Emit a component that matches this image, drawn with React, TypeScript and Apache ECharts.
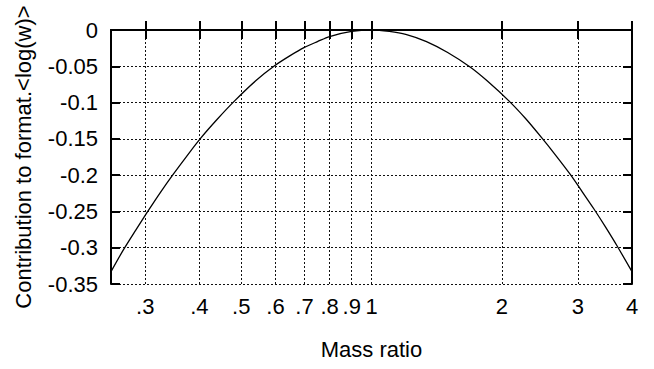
import React, { useEffect, useRef } from "react";
import * as echarts from "echarts";

// Mass ratio values along the curve (log-scaled x axis)
const massRatio = [
  0.25, 0.267, 0.285, 0.304, 0.325, 0.348, 0.375, 0.403, 0.44, 0.482, 0.54,
  0.598, 0.65, 0.7, 0.75, 0.8, 0.9, 1.0, 1.1, 1.2, 1.34, 1.5, 1.69, 1.85, 2.08,
  2.27, 2.47, 2.66, 2.88, 3.07, 3.27, 3.47, 3.69, 4.0,
];

// Contribution to format.<log(w)> at each mass ratio
const contribution = [
  -0.333, -0.303, -0.276, -0.25, -0.224, -0.199, -0.173, -0.149, -0.123,
  -0.098, -0.07, -0.049, -0.035, -0.024, -0.016, -0.009, -0.002, 0.0, -0.002,
  -0.006, -0.016, -0.031, -0.051, -0.07, -0.098, -0.122, -0.148, -0.172,
  -0.199, -0.223, -0.247, -0.271, -0.297, -0.333,
];

// Tick positions on the mass-ratio axis
const xTicks = [0.3, 0.4, 0.5, 0.6, 0.7, 0.8, 0.9, 1, 2, 3, 4];

const FONT = "'Liberation Sans', Arial, Helvetica, sans-serif";
const FS = 22;

function fmtRatio(v: number): string {
  const r = Number(v.toFixed(2));
  return r < 1 ? String(r).replace(/^0\./, ".") : String(r);
}

export default function App() {
  const ref = useRef<HTMLDivElement>(null);

  useEffect(() => {
    if (!ref.current) return;
    const chart = echarts.init(ref.current, null, { renderer: "svg" });

    const gridDash = { color: "#111", width: 1, type: [2, 2] as number[] };
    const tickStyle = { color: "#000", width: 2 };
    const lineStyle = { color: "#000", width: 2 };

    chart.setOption({
      animation: false,
      backgroundColor: "#fff",
      grid: { left: 111, right: 22, top: 30, bottom: 85, containLabel: false },
      xAxis: [
        {
          type: "log",
          logBase: 10,
          min: 0.25,
          max: 4,
          position: "bottom",
          name: "Mass ratio",
          nameLocation: "middle",
          nameGap: 54,
          nameTextStyle: { fontFamily: FONT, fontSize: FS, color: "#000" },
          axisLine: { show: true, lineStyle },
          axisTick: {
            show: true,
            inside: true,
            length: 9,
            lineStyle: tickStyle,
            customValues: xTicks,
          },
          axisLabel: {
            show: true,
            customValues: xTicks,
            margin: 11,
            fontFamily: FONT,
            fontSize: FS,
            color: "#000",
            formatter: (v: number) => fmtRatio(v),
          },
          splitLine: { show: true, lineStyle: gridDash },
          minorTick: { show: false },
          minorSplitLine: { show: false },
        },
        {
          type: "log",
          logBase: 10,
          min: 0.25,
          max: 4,
          position: "top",
          axisLine: { show: true, lineStyle },
          axisTick: {
            show: true,
            inside: true,
            length: 9,
            lineStyle: tickStyle,
            customValues: xTicks,
          },
          axisLabel: { show: false },
          splitLine: { show: false },
        },
      ],
      yAxis: [
        {
          type: "value",
          min: -0.35,
          max: 0,
          interval: 0.05,
          position: "left",
          name: "Contribution to format.<log(w)>",
          nameLocation: "middle",
          nameRotate: 90,
          nameGap: 77,
          nameTextStyle: { fontFamily: FONT, fontSize: FS, color: "#000" },
          axisLine: { show: true, lineStyle },
          axisTick: { show: true, inside: true, length: 9, lineStyle: tickStyle },
          axisLabel: {
            margin: 13,
            fontFamily: FONT,
            fontSize: FS,
            color: "#000",
            formatter: (v: number) => String(Number(v.toFixed(2))),
          },
          splitLine: { show: true, lineStyle: gridDash },
        },
        {
          type: "value",
          min: -0.35,
          max: 0,
          interval: 0.05,
          position: "right",
          axisLine: { show: true, lineStyle },
          axisTick: { show: true, inside: true, length: 9, lineStyle: tickStyle },
          axisLabel: { show: false },
          splitLine: { show: false },
        },
      ],
      series: [
        {
          type: "line",
          xAxisIndex: 0,
          yAxisIndex: 0,
          data: massRatio.map((m, i) => [m, contribution[i]]),
          showSymbol: false,
          smooth: 0.3,
          lineStyle: { color: "#000", width: 1.3 },
          z: 5,
        },
      ],
    });

    return () => chart.dispose();
  }, []);

  return (
    <div
      ref={ref}
      style={{ position: "fixed", left: 0, top: 0, width: 654, height: 369 }}
    />
  );
}
